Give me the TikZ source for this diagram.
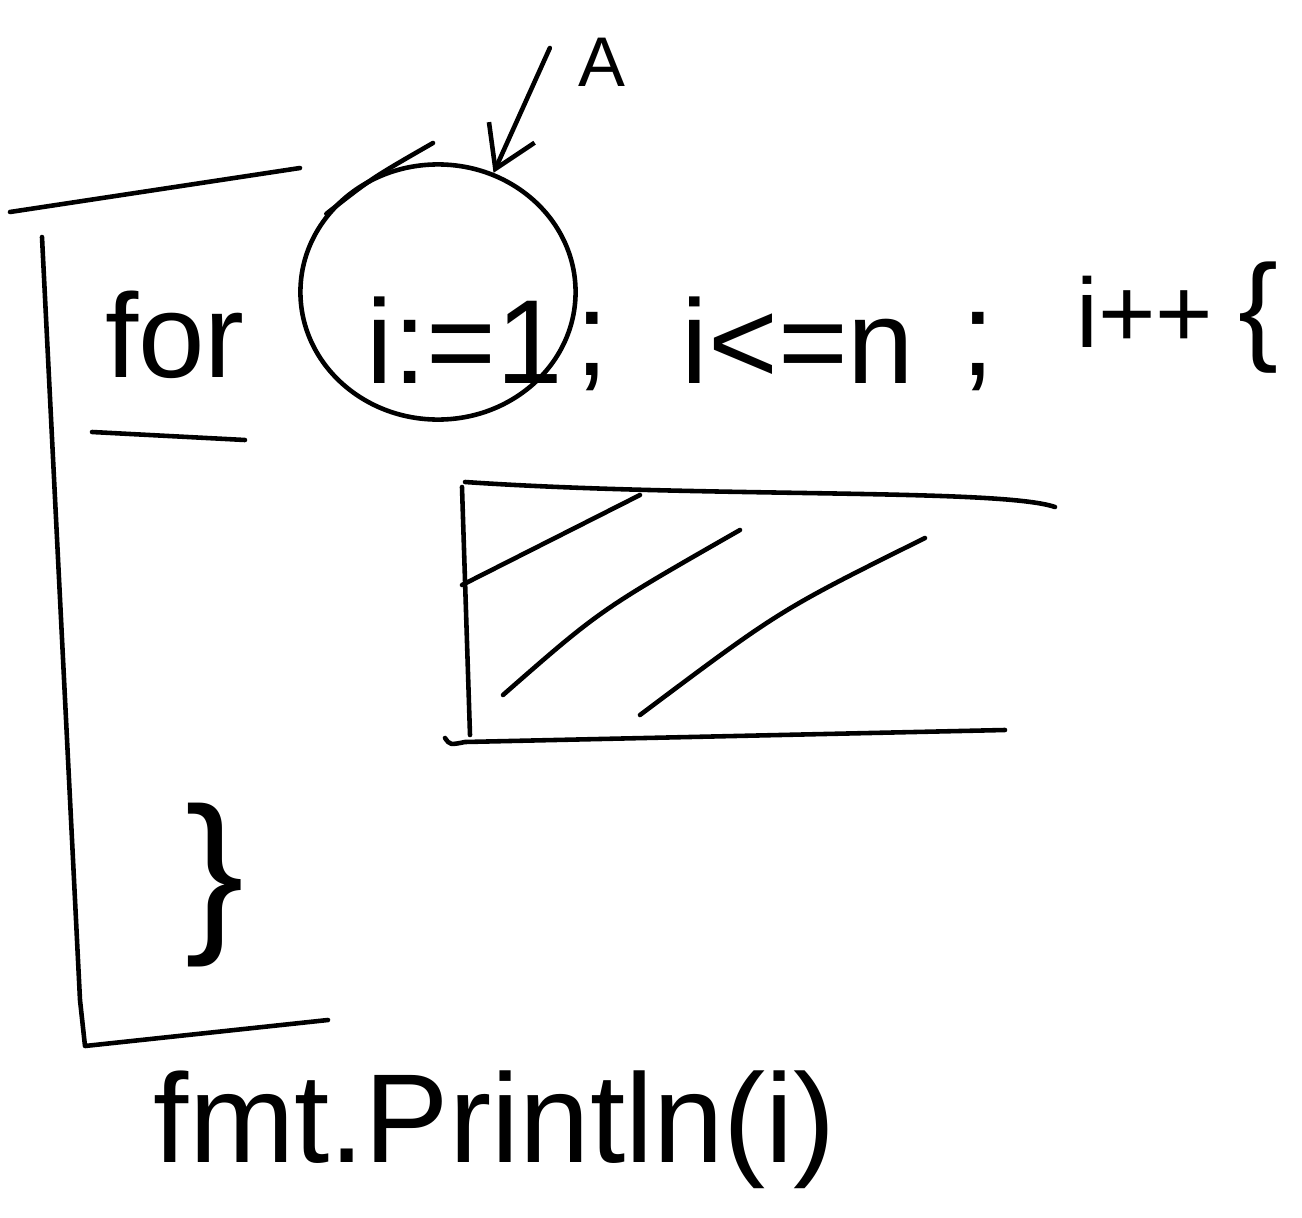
\documentclass[tikz,border=0pt]{standalone}
\usepackage{fontspec}
\setmainfont{Liberation Sans}
\usetikzlibrary{arrows.meta,positioning,shapes.geometric}

\begin{document}
\begin{tikzpicture}[
        x=0.01cm, y=-0.01cm,
        pen/.style={line width=1.3pt, line cap=round, line join=round},
        code/.style={font=\fontsize{34}{40}\selectfont, inner sep=0pt},
        big/.style={font=\fontsize{36}{42}\selectfont, inner sep=0pt},
        ringstyle/.style={draw, ellipse, line width=1.3pt, minimum width=2.75cm, minimum height=2.55cm}
    ]
        \useasboundingbox (0,0) rectangle (1302,1218);

        % bracket round the loop
        \draw[pen] (10,212) -- (300,168);
        \draw[pen] (42,237) -- (80,1000) -- (85,1046) -- (328,1020);

        % head of the loop
        \node[code] (forkw) at (175,335) {for};
        \draw[pen] (92,432) -- (245,440);

        \node[ringstyle] (ring) at (438,292) {};
        \draw[pen] (ring.145) .. controls (372,178) .. (433,143);
        \node[code] (init) at (465,340) {i:=1};
        \node[code] (semi1) at (592,352) {;};
        \node[code] (cond) at (798,340) {i<=n};
        \node[code] (semi2) at (978,352) {;};
        \node[font=\fontsize{28}{34}\selectfont, inner sep=0pt] (incr) at (1145,312) {i++};
        \node[code] (open) at (1258,318) {\{};

        \node[font=\fontsize{20}{24}\selectfont, inner sep=0pt] (labelA) at (602,62) {A};
        \draw[pen, -{Straight Barb[length=4mm, width=5mm]}] ([xshift=-0.28cm, yshift=0.14cm]labelA.west) -- (ring.65);

        % body (hatched block)
        \draw[pen] (465,482) .. controls (700,498) and (1000,488) .. (1055,507);
        \draw[pen] (462,487) -- (470,735);
        \draw[pen] (445,738) .. controls (450,745) .. (465,742) -- (1005,730);
        \draw[pen] (462,585) -- (640,495);
        \draw[pen] (503,695) .. controls (600,610) .. (740,530);
        \draw[pen] (640,715) .. controls (780,610) .. (925,538);

        \node[font=\fontsize{50}{60}\selectfont, inner sep=0pt] (close) at (215,885) {\}};

        % after the loop
        \node[big] (call) at (495,1130) {fmt.Println(i)};
    \end{tikzpicture}
\end{document}
